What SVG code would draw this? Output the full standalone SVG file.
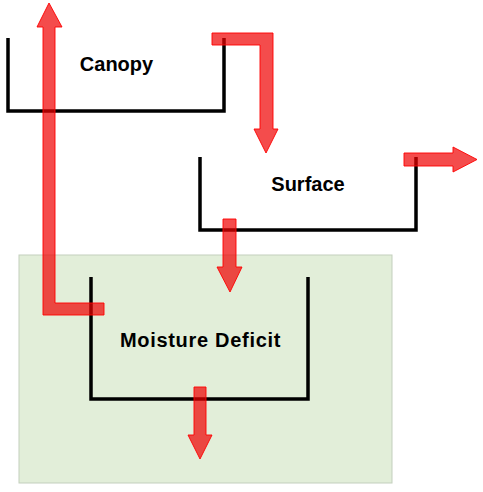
<svg xmlns="http://www.w3.org/2000/svg" width="483" height="492" viewBox="0 0 483 492">
<style>
.bucket{fill:none;stroke:#000;stroke-width:3.5;stroke-linejoin:miter;stroke-linecap:butt}
.lbl{font-family:"Liberation Sans",Arial,sans-serif;font-weight:bold;font-size:20px;fill:#000;text-anchor:middle}
.arrow{fill:#f00000;fill-opacity:0.7;stroke:#ff0000;stroke-width:1;stroke-opacity:0.9}
</style>
<rect width="483" height="492" fill="#fff"/>
<g id="soil-zone">
<rect x="19" y="255" width="373" height="228" fill="#e2eed9" stroke="#c3cfbd" stroke-width="1"/>
</g>
<g id="canopy">
<polyline class="bucket" points="8,38 8,111 224,111 224,38"/>
<text class="lbl" x="116.5" y="71">Canopy</text>
</g>
<g id="surface">
<polyline class="bucket" points="200,157 200,230 416,230 416,157"/>
<text class="lbl" x="308" y="191">Surface</text>
</g>
<g id="moisture-deficit">
<polyline class="bucket" points="91,277 91,399 308,399 308,277"/>
<text class="lbl" x="200.5" y="347" letter-spacing="0.7">Moisture Deficit</text>
</g>
<g id="connectors">
<polygon class="arrow" points="43,315 104,315 104,303 55,303 55,27 62,27 49,3 37,27 43,27"/>
<polygon class="arrow" points="212,33 273,33 273,129 278,129 266,153 254,129 260,129 260,45 212,45"/>
<polygon class="arrow" points="404,153 453,153 453,147 477,159.5 453,172 453,166 404,166"/>
<polygon class="arrow" points="223,219 236,219 236,267 242,267 230,292 217,267 223,267"/>
<polygon class="arrow" points="194,387 206,387 206,435 212,435 200,459 188,435 194,435"/>
</g>
</svg>
